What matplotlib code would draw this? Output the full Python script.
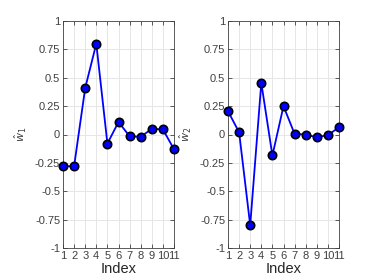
import matplotlib
matplotlib.use("Agg")
import matplotlib.pyplot as plt
import numpy as np

plt.rcParams['font.family'] = ['Liberation Sans', 'DejaVu Sans']

index = list(range(1, 12))
w1 = [-0.28, -0.28, 0.41, 0.80, -0.08, 0.11, -0.015, -0.02, 0.05, 0.045, -0.13]
w2 = [0.205, 0.02, -0.80, 0.455, -0.185, 0.25, 0.005, 0.0, -0.025, -0.005, 0.063]
yticks = [-1, -0.75, -0.5, -0.25, 0, 0.25, 0.5, 0.75, 1]
yticklabels = ["-1", "-0.75", "-0.5", "-0.25", "0", "0.25", "0.5", "0.75", "1"]
ylabels = [r"$\hat{w}_1$", r"$\hat{w}_2$"]

fig = plt.figure(figsize=(3.74, 2.8), dpi=100)
W, H = 374, 280
boxes = [(63, 21, 174, 248), (228, 21, 339, 248)]
tc = "#404040"
for (x0, y0, x1, y1), data, yl in zip(boxes, [w1, w2], ylabels):
    ax = fig.add_axes([x0 / W, 1 - y1 / H, (x1 - x0) / W, (y1 - y0) / H])
    ax.plot(index, data, color="#0000ff", lw=1.3, marker="o", ms=6,
            mfc="#0000ff", mec="black", mew=1.2, zorder=3, clip_on=False)
    ax.set_xlim(1, 11)
    ax.set_ylim(-1, 1)
    ax.set_xticks(index)
    ax.set_xticklabels([str(i) for i in index])
    ax.set_yticks(yticks)
    ax.set_yticklabels(yticklabels)
    ax.grid(True, color="#e6e6e6", lw=0.7)
    ax.set_axisbelow(True)
    ax.tick_params(direction="in", length=3, width=0.6, labelsize=8,
                   colors=tc, labelcolor=tc, top=True, right=True, pad=2)
    for s in ax.spines.values():
        s.set_color("#404040")
        s.set_linewidth(0.6)
    ax.set_xlabel("Index", fontsize=10.5, color="#262626", labelpad=1)
    ax.set_ylabel(yl, fontsize=8, color=tc, labelpad=4)

fig.savefig("out.png", dpi=100)
